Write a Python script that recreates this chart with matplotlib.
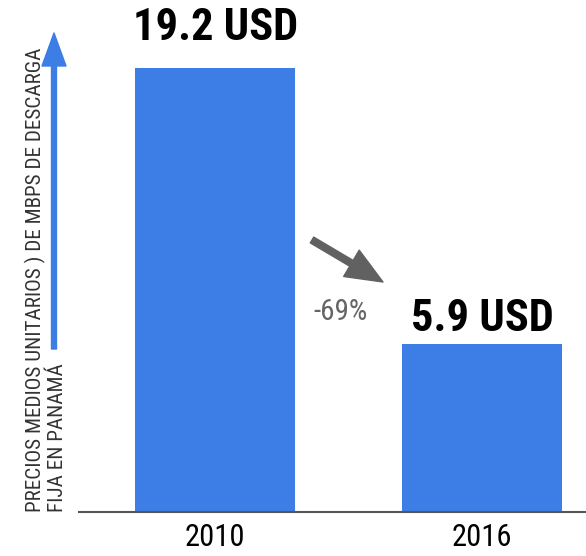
import numpy as np
import matplotlib
matplotlib.use('Agg')
import matplotlib.pyplot as plt
from matplotlib import font_manager

# data
years = ['2010', '2016']
prices = [19.2, 5.9]
value_labels = ['19.2 USD', '5.9 USD']
change_label = '-69%'
ylabel_lines = ['PRECIOS MEDIOS UNITARIOS ) DE MBPS DE DESCARGA', 'FIJA EN PANAMÁ']

# pick a condensed face if one is there
available = {f.name for f in font_manager.fontManager.ttflist}
cond = next((n for n in ['Roboto Condensed', 'Liberation Sans Narrow', 'Roboto'] if n in available), 'DejaVu Sans')
plt.rcParams['font.family'] = [cond, 'DejaVu Sans']

blue = '#3c7de6'
grey = '#616161'
W, H = 586, 556
dpi = 100

fig = plt.figure(figsize=(W/dpi, H/dpi), dpi=dpi)
ax = fig.add_axes([79/W, 44/H, 1 - 79/W, 1 - 44/H])

floor = -2.2
x = np.arange(len(years))
ax.bar(x, np.array(prices) - floor, bottom=floor, width=0.6, color=blue)
ax.set_xlim(-0.51, 1.39)
ax.set_ylim(floor, 22.47)

offsets = [20, 9.5]
for xi, v, lab, off in zip(x, prices, value_labels, offsets):
    ax.annotate(lab, (xi, v), textcoords='offset points', xytext=(0, off),
                ha='center', va='baseline', fontsize=32, fontweight='bold', color='black')

ax.set_xticks(x)
ax.set_xticklabels(years, fontsize=22, color='black')
ax.tick_params(axis='x', length=0, pad=8)
ax.set_yticks([])
for s in ['top', 'right', 'left']:
    ax.spines[s].set_visible(False)
ax.spines['bottom'].set_color('#555555')
ax.spines['bottom'].set_linewidth(1.5)

# grey trend arrow and label
ax.annotate('', xy=(383/W, 1 - 282/H), xytext=(312/W, 1 - 240/H),
            xycoords='figure fraction', textcoords='figure fraction',
            arrowprops=dict(arrowstyle='simple,head_length=1.2,head_width=1,tail_width=0.22',
                            mutation_scale=22, color=grey, shrinkA=0, shrinkB=0))
fig.text(341/W, 1 - 312/H, change_label, ha='center', va='center', fontsize=21, color='#666666')

# y label with a blue arrow
fig.text(41.5/W, 1 - 512/H, ylabel_lines[0], rotation=90, rotation_mode='anchor',
         ha='left', va='baseline', fontsize=15.2, color='#333333')
fig.text(63/W, 1 - 512/H, ylabel_lines[1], rotation=90, rotation_mode='anchor',
         ha='left', va='baseline', fontsize=15.2, color='#333333')
ax.annotate('', xy=(54/W, 1 - 33/H), xytext=(54/W, 1 - 349/H),
            xycoords='figure fraction', textcoords='figure fraction',
            arrowprops=dict(arrowstyle='simple,head_length=1.32,head_width=0.96,tail_width=0.2',
                            mutation_scale=18, color=blue, shrinkA=0, shrinkB=0))

fig.savefig('out.png', dpi=dpi)
